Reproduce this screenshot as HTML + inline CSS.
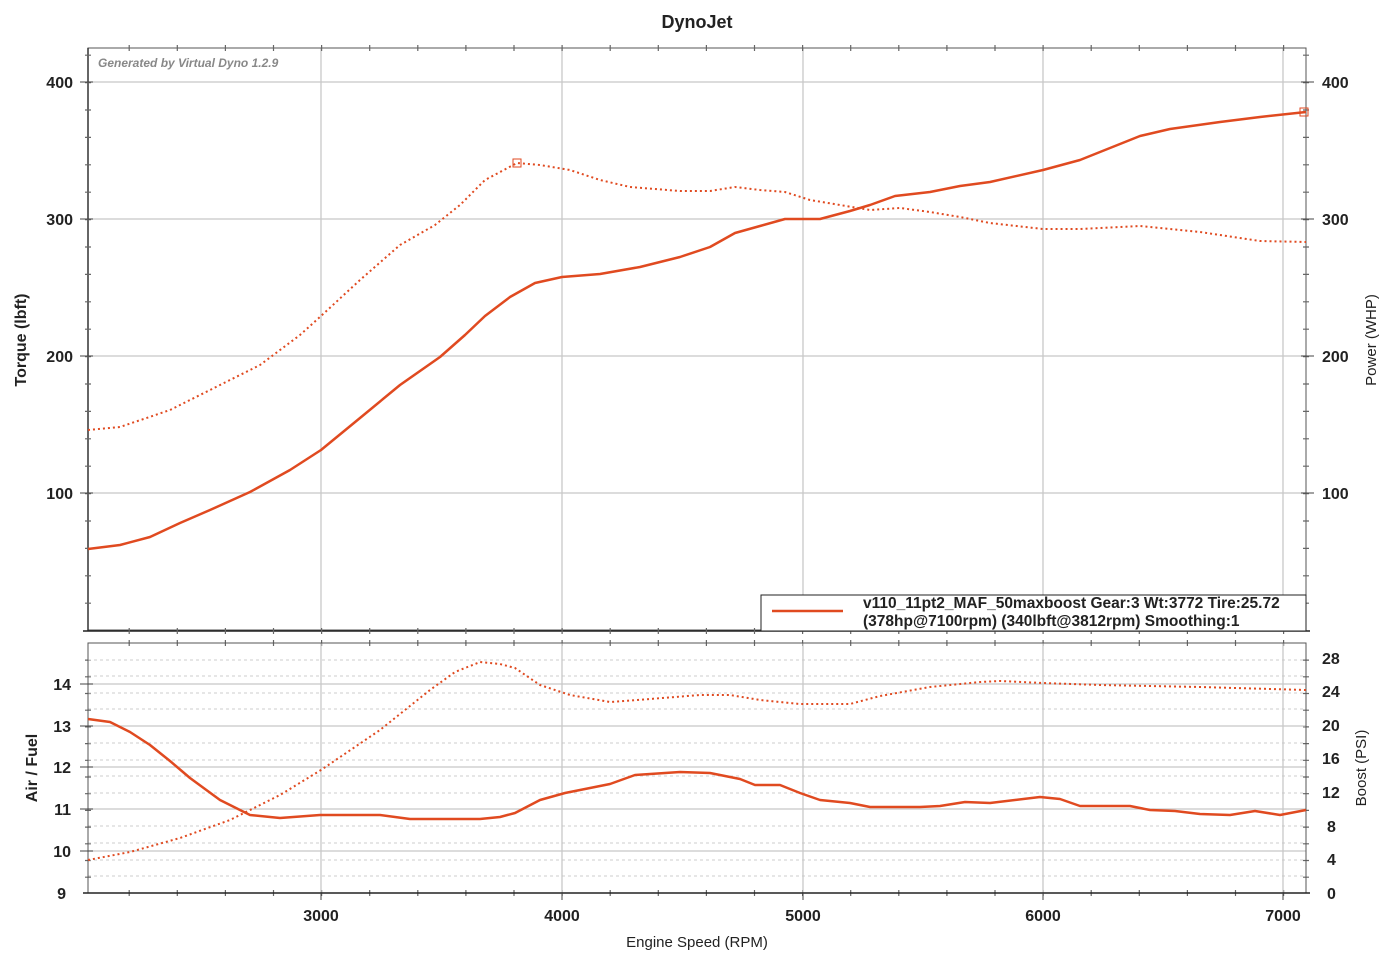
<!DOCTYPE html>
<html><head><meta charset="utf-8"><style>
html,body{margin:0;padding:0;background:#fff;}
svg{display:block;font-family:"Liberation Sans",Arial,sans-serif;}
</style></head><body>
<svg width="1394" height="964" viewBox="0 0 1394 964" xmlns="http://www.w3.org/2000/svg">
<rect width="1394" height="964" fill="#fff"/>
<text x="697" y="28" text-anchor="middle" font-size="18" font-weight="bold" fill="#222">DynoJet</text>
<g stroke="#c8c8c8" stroke-width="1.3">
<line x1="321" y1="48" x2="321" y2="630"/><line x1="562" y1="48" x2="562" y2="630"/><line x1="803" y1="48" x2="803" y2="630"/><line x1="1043" y1="48" x2="1043" y2="630"/><line x1="1283" y1="48" x2="1283" y2="630"/>
<line x1="88" y1="82" x2="1306" y2="82"/><line x1="88" y1="219" x2="1306" y2="219"/><line x1="88" y1="356" x2="1306" y2="356"/><line x1="88" y1="493" x2="1306" y2="493"/>
</g>
<rect x="88" y="48" width="1218" height="582" fill="none" stroke="#555" stroke-width="1"/>
<line x1="88" y1="48" x2="88" y2="631" stroke="#333" stroke-width="1.5"/>
<line x1="83" y1="631" x2="1310" y2="631" stroke="#222" stroke-width="1.5"/>
<g stroke="#666" fill="none">
<line x1="128.6" y1="631" x2="1306" y2="631" stroke-width="6" stroke-dasharray="1.2 46.9"/>
<line x1="128.6" y1="48" x2="1306" y2="48" stroke-width="6" stroke-dasharray="1.2 46.9"/>
<line x1="128.6" y1="643" x2="1306" y2="643" stroke-width="6" stroke-dasharray="1.2 46.9"/>
<line x1="128.6" y1="893" x2="1306" y2="893" stroke-width="6" stroke-dasharray="1.2 46.9"/>
<line x1="88" y1="54.6" x2="88" y2="630" stroke-width="6" stroke-dasharray="1.2 26.2"/>
<line x1="1306" y1="54.6" x2="1306" y2="630" stroke-width="6" stroke-dasharray="1.2 26.2"/>
<line x1="88" y1="659.5" x2="88" y2="893" stroke-width="6" stroke-dasharray="1.2 15.5"/>
<line x1="1306" y1="659.5" x2="1306" y2="893" stroke-width="6" stroke-dasharray="1.2 15.5"/>
</g>
<text x="98" y="67" font-size="12" font-style="italic" font-weight="bold" fill="#888">Generated by Virtual Dyno 1.2.9</text>
<g font-size="16" font-weight="bold" fill="#222" text-anchor="end">
<text x="73" y="88">400</text><text x="73" y="225">300</text><text x="73" y="362">200</text><text x="73" y="499">100</text>
</g>
<g font-size="16" font-weight="bold" fill="#222" text-anchor="start">
<text x="1322" y="88">400</text><text x="1322" y="225">300</text><text x="1322" y="362">200</text><text x="1322" y="499">100</text>
</g>
<g stroke="#444" stroke-width="1">
<line x1="80" y1="82" x2="93" y2="82"/><line x1="80" y1="219" x2="93" y2="219"/><line x1="80" y1="356" x2="93" y2="356"/><line x1="80" y1="493" x2="93" y2="493"/>
<line x1="1301" y1="82" x2="1314" y2="82"/><line x1="1301" y1="219" x2="1314" y2="219"/><line x1="1301" y1="356" x2="1314" y2="356"/><line x1="1301" y1="493" x2="1314" y2="493"/>
</g>
<text transform="translate(26,340) rotate(-90)" text-anchor="middle" font-size="16" font-weight="bold" fill="#222">Torque (lbft)</text>
<text transform="translate(1376,340) rotate(-90)" text-anchor="middle" font-size="15" fill="#222">Power (WHP)</text>
<polyline fill="none" stroke="#e04a20" stroke-width="2" stroke-dasharray="2,3" stroke-linejoin="round" points="88,430 120,427 170,410 210,390 260,365 300,335 321,316 360,280 400,245 435,225 460,205 485,180 517,163 540,165 570,170 600,180 630,187 680,191 710,191 735,187 760,190 785,192 810,200 840,205 870,210 900,208 930,212 960,217 990,223 1043,229 1080,229 1140,226 1200,232 1260,241 1306,242"/>
<polyline fill="none" stroke="#e04a20" stroke-width="2.5" stroke-linejoin="round" points="88,549 120,545 150,537 180,523 210,510 250,492 290,470 321,450 360,418 400,385 440,357 465,335 485,316 510,297 535,283 562,277 600,274 640,267 680,257 710,247 735,233 760,226 785,219 820,219 850,211 870,205 895,196 930,192 960,186 990,182 1043,170 1080,160 1110,148 1140,136 1170,129 1220,122 1260,117 1306,112"/>
<rect x="513" y="159" width="8" height="8" fill="none" stroke="#e04a20" stroke-width="1"/>
<rect x="1300" y="108" width="8" height="8" fill="none" stroke="#e04a20" stroke-width="1"/>
<rect x="761" y="595" width="545" height="36" fill="#fff" stroke="#222" stroke-width="1"/>
<line x1="772" y1="611" x2="843" y2="611" stroke="#e04a20" stroke-width="2.5"/>
<text x="863" y="608" font-size="15.5" font-weight="bold" fill="#222">v110_11pt2_MAF_50maxboost Gear:3 Wt:3772 Tire:25.72</text>
<text x="863" y="626" font-size="15.5" font-weight="bold" fill="#222">(378hp@7100rpm) (340lbft@3812rpm) Smoothing:1</text>
<g stroke="#ccc" stroke-width="1" stroke-dasharray="3,3">
<line x1="88" y1="660" x2="1306" y2="660"/><line x1="88" y1="676" x2="1306" y2="676"/><line x1="88" y1="693" x2="1306" y2="693"/><line x1="88" y1="709" x2="1306" y2="709"/><line x1="88" y1="743" x2="1306" y2="743"/><line x1="88" y1="760" x2="1306" y2="760"/><line x1="88" y1="776" x2="1306" y2="776"/><line x1="88" y1="793" x2="1306" y2="793"/><line x1="88" y1="826" x2="1306" y2="826"/><line x1="88" y1="843" x2="1306" y2="843"/><line x1="88" y1="860" x2="1306" y2="860"/><line x1="88" y1="876" x2="1306" y2="876"/>
</g>
<g stroke="#c8c8c8" stroke-width="1.3">
<line x1="88" y1="684" x2="1306" y2="684"/><line x1="88" y1="726" x2="1306" y2="726"/><line x1="88" y1="767" x2="1306" y2="767"/><line x1="88" y1="809" x2="1306" y2="809"/><line x1="88" y1="851" x2="1306" y2="851"/>
<line x1="321" y1="643" x2="321" y2="893"/><line x1="562" y1="643" x2="562" y2="893"/><line x1="803" y1="643" x2="803" y2="893"/><line x1="1043" y1="643" x2="1043" y2="893"/><line x1="1283" y1="643" x2="1283" y2="893"/>
</g>
<rect x="88" y="643" width="1218" height="250" fill="none" stroke="#555" stroke-width="1"/>
<line x1="83" y1="893" x2="1310" y2="893" stroke="#222" stroke-width="1.5"/>
<g stroke="#444" stroke-width="1">
<line x1="80" y1="684" x2="93" y2="684"/><line x1="80" y1="726" x2="93" y2="726"/><line x1="80" y1="767" x2="93" y2="767"/><line x1="80" y1="809" x2="93" y2="809"/><line x1="80" y1="851" x2="93" y2="851"/>
<line x1="321" y1="893" x2="321" y2="900"/><line x1="562" y1="893" x2="562" y2="900"/><line x1="803" y1="893" x2="803" y2="900"/><line x1="1043" y1="893" x2="1043" y2="900"/><line x1="1283" y1="893" x2="1283" y2="900"/>
</g>
<g font-size="16" font-weight="bold" fill="#222" text-anchor="end">
<text x="71" y="690">14</text><text x="71" y="732">13</text><text x="71" y="773">12</text><text x="71" y="815">11</text><text x="71" y="857">10</text><text x="66" y="899">9</text>
</g>
<g font-size="16" font-weight="bold" fill="#222" text-anchor="start">
<text x="1322" y="664">28</text><text x="1322" y="697">24</text><text x="1322" y="731">20</text><text x="1322" y="764">16</text><text x="1322" y="798">12</text><text x="1327" y="832">8</text><text x="1327" y="865">4</text><text x="1327" y="899">0</text>
</g>
<text transform="translate(37,768) rotate(-90)" text-anchor="middle" font-size="16" font-weight="bold" fill="#222">Air / Fuel</text>
<text transform="translate(1366,768) rotate(-90)" text-anchor="middle" font-size="15" fill="#222">Boost (PSI)</text>
<polyline fill="none" stroke="#e04a20" stroke-width="2" stroke-dasharray="2,3" stroke-linejoin="round" points="88,860 130,852 180,838 230,820 280,795 321,770 380,730 430,690 455,672 480,662 500,664 515,668 540,685 570,695 610,702 650,699 700,695 730,695 760,700 800,704 850,704 880,696 930,687 980,682 1000,681 1043,683 1100,685 1200,687 1306,690"/>
<polyline fill="none" stroke="#e04a20" stroke-width="2.5" stroke-linejoin="round" points="88,719 110,722 130,732 150,745 170,761 190,778 220,800 250,815 280,818 320,815 380,815 410,819 480,819 500,817 515,813 540,800 565,793 610,784 635,775 680,772 710,773 740,779 755,785 780,785 800,793 820,800 850,803 870,807 920,807 940,806 965,802 990,803 1040,797 1060,799 1080,806 1130,806 1150,810 1175,811 1200,814 1230,815 1255,811 1280,815 1306,810"/>
<g font-size="16" font-weight="bold" fill="#222" text-anchor="middle">
<text x="321" y="921">3000</text><text x="562" y="921">4000</text><text x="803" y="921">5000</text><text x="1043" y="921">6000</text><text x="1283" y="921">7000</text>
</g>
<text x="697" y="947" text-anchor="middle" font-size="15" fill="#222">Engine Speed (RPM)</text>
</svg>
</body></html>
